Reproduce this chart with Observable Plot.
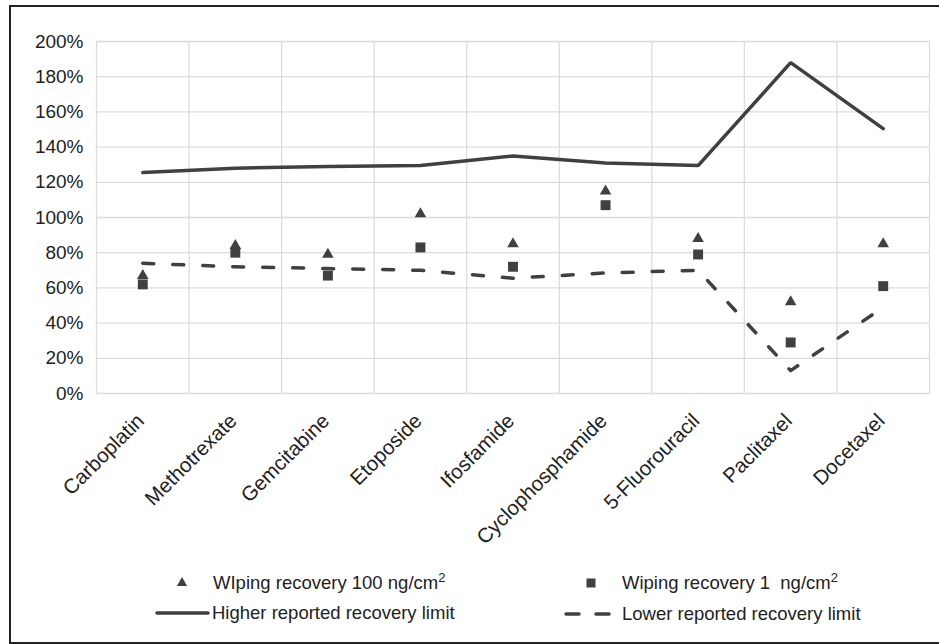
<!DOCTYPE html>
<html>
<head>
<meta charset="utf-8">
<script src="https://cdn.jsdelivr.net/npm/d3@7"></script>
<script src="https://cdn.jsdelivr.net/npm/@observablehq/plot@0.6"></script>
<style>
  html, body { margin: 0; padding: 0; background: #fff; }
  #frame {
    position: relative; width: 939px; height: 644px; overflow: hidden;
    font-family: "Liberation Sans", Arial, sans-serif;
  }
  #border {
    position: absolute; left: 9px; top: 5px; width: 960px; height: 635px;
    border-top: 2px solid #222; border-left: 2px solid #222; border-bottom: 2px solid #222;
    pointer-events: none;
  }
  #chart { position: absolute; left: 0; top: 0; }
  #legend { position: absolute; left: 0; top: 0; width: 939px; height: 644px; }
  #legend text { white-space: pre; }
</style>
</head>
<body>
<div id="frame">
  <div id="chart"></div>
  <svg id="legend" width="939" height="644"></svg>
  <div id="border"></div>
</div>
<script>
// Cytotoxic drugs on the x axis
const drugs = ["Carboplatin", "Methotrexate", "Gemcitabine", "Etoposide", "Ifosfamide",
  "Cyclophosphamide", "5-Fluorouracil", "Paclitaxel", "Docetaxel"];

// Wiping recovery (%) at 100 ng/cm² and at 1 ng/cm²
const recovery100 = [67, 84, 79, 102, 85, 115, 88, 52, 85];
const recovery1 = [62, 80, 67, 83, 72, 107, 79, 29, 61];

// Reported recovery limits (%) from the literature
const higherLimit = [125.5, 128, 129, 129.5, 135, 131, 129.5, 188, 150.5];
const lowerLimit = [74, 72, 71, 70, 65.5, 68.5, 70, 13, 49];

// Y axis ticks (%)
const yTicks = [0, 20, 40, 60, 80, 100, 120, 140, 160, 180, 200];

const ink = "#404040";

// Each drug sits at the middle of its own unit-wide column
const rows = drugs.map((drug, i) => ({
  pos: i + 0.5, drug,
  r100: recovery100[i], r1: recovery1[i],
  hi: higherLimit[i], lo: lowerLimit[i]
}));
const columnEdges = d3.range(drugs.length + 1);

const chart = Plot.plot({
  width: 939,
  height: 560,
  marginLeft: 96,
  marginRight: 10,
  marginTop: 41,
  marginBottom: 167,
  style: { fontFamily: "Liberation Sans, Arial, sans-serif", fontSize: "19px", color: "#222", background: "transparent" },
  x: { type: "linear", domain: [0, drugs.length] },
  y: { domain: [0, 200] },
  marks: [
    Plot.ruleY(yTicks, { stroke: "#dcdcdc", strokeWidth: 1.3 }),
    Plot.ruleX(columnEdges, { stroke: "#dcdcdc", strokeWidth: 1.3 }),
    Plot.axisY({ ticks: yTicks, tickFormat: d => d + "%", tickSize: 0, tickPadding: 13, label: null }),
    Plot.axisX({
      ticks: rows.map(d => d.pos),
      tickFormat: (d) => drugs[Math.round(d - 0.5)],
      tickRotate: -45, tickSize: 0, tickPadding: 24, dx: -2, fontSize: 20.5, label: null
    }),
    Plot.line(rows, { x: "pos", y: "hi", stroke: ink, strokeWidth: 3.5, strokeLinejoin: "miter" }),
    Plot.line(rows, { x: "pos", y: "lo", stroke: ink, strokeWidth: 3.5, strokeDasharray: "11,19", strokeLinecap: "round" }),
    Plot.dot(rows, { x: "pos", y: "r1", symbol: "square", r: 5.6, fill: ink }),
    Plot.dot(rows, { x: "pos", y: "r100", symbol: "triangle", r: 4.3, fill: ink })
  ]
});
document.getElementById("chart").append(chart);

// Legend below the plot: two columns, two rows
const legendItems = [
  { kind: "triangle", text: "WIping recovery 100 ng/cm", sup: "2", x: 182, y: 583, tx: 213 },
  { kind: "square", text: "Wiping recovery 1  ng/cm", sup: "2", x: 591, y: 583, tx: 622 },
  { kind: "solid", text: "Higher reported recovery limit", x: 157, y: 613, tx: 212 },
  { kind: "dashed", text: "Lower reported recovery limit", x: 566, y: 614, tx: 622 }
];
const lg = d3.select("#legend");
for (const it of legendItems) {
  if (it.kind === "triangle") {
    lg.append("path").attr("d", d3.symbol(d3.symbolTriangle, 45)())
      .attr("transform", `translate(${it.x},${it.y})`).attr("fill", ink);
  } else if (it.kind === "square") {
    lg.append("rect").attr("x", it.x - 4.5).attr("y", it.y - 4.5).attr("width", 9).attr("height", 9).attr("fill", ink);
  } else if (it.kind === "solid") {
    lg.append("line").attr("x1", it.x).attr("x2", it.x + 51).attr("y1", it.y).attr("y2", it.y)
      .attr("stroke", ink).attr("stroke-width", 3.5).attr("stroke-linecap", "round");
  } else {
    lg.append("line").attr("x1", it.x).attr("x2", it.x + 45).attr("y1", it.y).attr("y2", it.y)
      .attr("stroke", ink).attr("stroke-width", 3.5).attr("stroke-linecap", "round")
      .attr("stroke-dasharray", "13,17");
  }
  const t = lg.append("text").attr("x", it.tx).attr("y", it.y + 6)
    .attr("font-family", "Liberation Sans, Arial, sans-serif").attr("font-size", 18.5).attr("fill", "#222")
    .text(it.text);
  if (it.sup) t.append("tspan").attr("font-size", 13).attr("dy", -7).text(it.sup);
}
</script>
</body>
</html>
